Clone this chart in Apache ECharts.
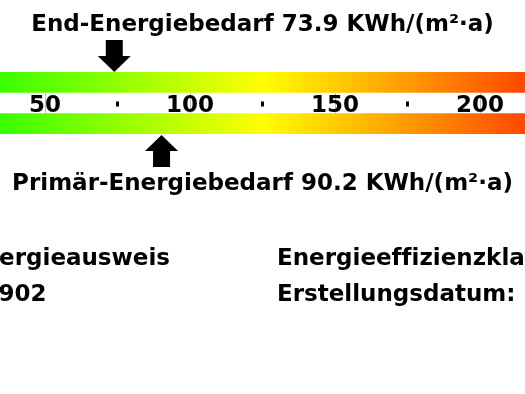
<!DOCTYPE html>
<html><head><meta charset="utf-8">
<script src="https://cdn.jsdelivr.net/npm/echarts@6/dist/echarts.min.js"></script>
<style>html,body{margin:0;padding:0;background:#fff}#c{width:525px;height:394px}</style>
</head><body><div id="c"></div>
<script>
// ---- data ----
const scaleMin = 34.5;
const scaleMax = 215.5;
const rows = ['Endenergie', 'Skala', 'Primärenergie'];
const majorTicks = [50, 100, 150, 200];
const minorTicks = [75, 125, 175];
const endEnergy = 73.9;
const primaryEnergy = 90.2;
const unit = 'KWh/(m²·a)';
const infoLeft = ['Energieausweis', '1902'];
const infoRight = ['Energieef\u200Cf\u200Cizienzklasse', 'Erstellungsdatum:'];

const FONT = 'bold 23px "DejaVu Sans"';
const gradStops = [
  {offset: 0, color: '#38ff00'},
  {offset: 0.5, color: '#ffff00'},
  {offset: 1, color: '#ff4800'}
];

const chart = echarts.init(document.getElementById('c'), null, {renderer: 'canvas'});
chart.setOption({
  animation: false,
  grid: {left: 0, right: 0, top: 72, height: 62, containLabel: false},
  xAxis: {
    type: 'value', min: scaleMin, max: scaleMax, position: 'bottom', offset: -21,
    axisLine: {show: false},
    splitLine: {show: false},
    axisTick: {show: true, customValues: majorTicks, inside: true, length: 20, lineStyle: {color: '#bbbbbb', width: 1}},
    axisLabel: {show: true, customValues: majorTicks, inside: true, margin: 7, verticalAlign: 'middle',
      color: '#000', fontFamily: 'DejaVu Sans', fontWeight: 'bold', fontSize: 23}
  },
  yAxis: {type: 'category', data: rows, inverse: true, show: false},
  graphic: [
    {type: 'text', left: 'center', top: 13.5, style: {text: 'End-Energiebedarf ' + endEnergy + ' ' + unit, font: FONT, fill: '#000'}},
    {type: 'text', left: 'center', top: 173, style: {text: 'Primär-Energiebedarf ' + primaryEnergy + ' ' + unit, font: FONT, fill: '#000'}},
    {type: 'text', x: -33, y: 247.5, style: {text: infoLeft[0], font: FONT, fill: '#000'}},
    {type: 'text', x: -17.5, y: 283.5, style: {text: infoLeft[1], font: FONT, fill: '#000'}},
    {type: 'text', x: 277, y: 247.5, style: {text: infoRight[0], font: FONT, fill: '#000'}},
    {type: 'text', x: 277, y: 283.5, style: {text: infoRight[1], font: FONT, fill: '#000'}}
  ],
  series: [
    {
      type: 'custom', name: 'bands',
      data: [[rows[0]], [rows[2]]],
      encode: {y: 0},
      renderItem: function (params, api) {
        const cat = api.value(0);
        const p0 = api.coord([scaleMin, cat]);
        const p1 = api.coord([scaleMax, cat]);
        const h = api.size([0, 1])[1];
        return {type: 'rect', shape: {x: p0[0], y: p0[1] - h / 2, width: p1[0] - p0[0], height: h},
          style: {fill: new echarts.graphic.LinearGradient(0, 0, 1, 0, gradStops)}};
      }
    },
    {
      type: 'custom', name: 'minor',
      data: minorTicks.map(v => [v, rows[1]]),
      encode: {x: 0, y: 1},
      renderItem: function (params, api) {
        const p = api.coord([api.value(0), api.value(1)]);
        return {type: 'rect', shape: {x: p[0] - 1.5, y: p[1] - 1.5, width: 3, height: 5}, style: {fill: '#000'}};
      }
    },
    {
      type: 'custom', name: 'arrows',
      data: [[endEnergy, rows[0]], [primaryEnergy, rows[2]]],
      encode: {x: 0, y: 1},
      renderItem: function (params, api) {
        const p = api.coord([api.value(0), api.value(1)]);
        const h = api.size([0, 1])[1];
        const tx = p[0];
        const dir = params.dataIndex === 0 ? -1 : 1;
        const ty = p[1] + dir * (h / 2 + (dir > 0 ? 1 : 0));
        const L = 32, HL = 16, HW = 16.5, SW = 8.5;
        const pts = [
          [tx - SW, ty + dir * L], [tx + SW, ty + dir * L], [tx + SW, ty + dir * HL],
          [tx + HW, ty + dir * HL], [tx, ty], [tx - HW, ty + dir * HL], [tx - SW, ty + dir * HL]
        ];
        return {type: 'polygon', shape: {points: pts}, style: {fill: '#000'}};
      }
    }
  ]
});
</script>
</body></html>
